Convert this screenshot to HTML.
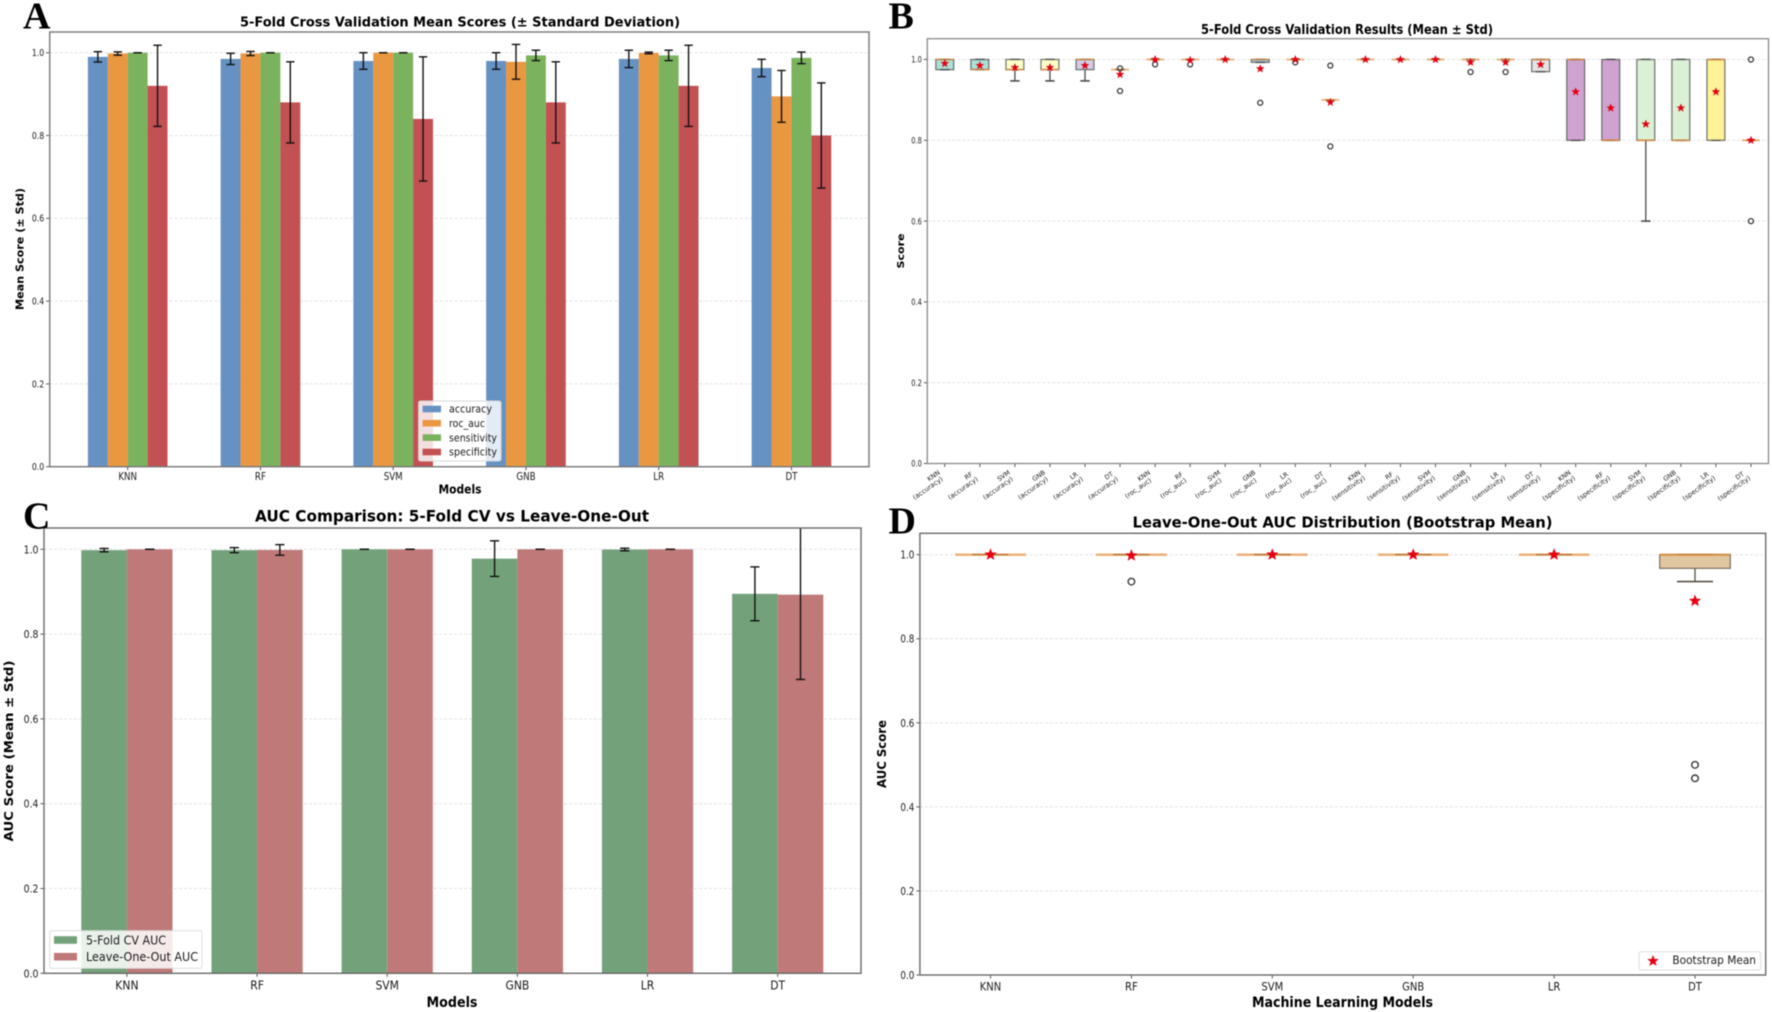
<!DOCTYPE html>
<html lang="en">
<head>
<meta charset="utf-8">
<title>Cross validation results</title>
<style>
html,body{margin:0;padding:0;background:#fff;width:1772px;height:1012px;overflow:hidden}
svg{display:block;filter:blur(0.6px)}
text{font-family:"DejaVu Sans","Liberation Sans",sans-serif;fill:#1a1a1a}
.title,.axis{font-weight:700;fill:#000}
.letter{font-family:"Liberation Serif",serif;font-weight:700;font-size:38px;fill:#000}
</style>
</head>
<body>
<svg id="figure" xmlns="http://www.w3.org/2000/svg" width="1772" height="1012" viewBox="0 0 1772 1012">
  <defs>
    <clipPath id="clip-c"><rect x="44" y="528" width="817" height="446"/></clipPath>
  </defs>
  <rect x="0" y="0" width="1772" height="1012" fill="#fff"/>

  <g id="panel-a"></g>
  <g id="panel-b"></g>
  <g id="panel-c"></g>
  <g id="panel-d"></g>

  <text class="letter" x="23" y="28.5">A</text>
  <text class="letter" x="888.5" y="28.5">B</text>
  <text class="letter" x="23" y="528.5">C</text>
  <text class="letter" x="888.5" y="533.5">D</text>

  <text class="title" x="460" y="26.5" text-anchor="middle" font-size="13.5" textLength="440" lengthAdjust="spacingAndGlyphs">5-Fold Cross Validation Mean Scores (± Standard Deviation)</text>
  <text class="axis" x="460" y="493.5" text-anchor="middle" font-size="12.5" textLength="43" lengthAdjust="spacingAndGlyphs">Models</text>
  <text class="axis" transform="translate(23.5 249) rotate(-90)" text-anchor="middle" font-size="10.5" textLength="122" lengthAdjust="spacingAndGlyphs">Mean Score (± Std)</text>

  <text class="title" x="1347" y="34" text-anchor="middle" font-size="13" textLength="292" lengthAdjust="spacingAndGlyphs">5-Fold Cross Validation Results (Mean ± Std)</text>
  <text class="axis" transform="translate(904 251) rotate(-90)" text-anchor="middle" font-size="9.5" textLength="35" lengthAdjust="spacingAndGlyphs">Score</text>

  <text class="title" x="452" y="521.5" text-anchor="middle" font-size="16" textLength="394" lengthAdjust="spacingAndGlyphs">AUC Comparison: 5-Fold CV vs Leave-One-Out</text>
  <text class="axis" x="452" y="1007" text-anchor="middle" font-size="14" textLength="51" lengthAdjust="spacingAndGlyphs">Models</text>
  <text class="axis" transform="translate(13 751) rotate(-90)" text-anchor="middle" font-size="12.5" textLength="181" lengthAdjust="spacingAndGlyphs">AUC Score (Mean ± Std)</text>

  <text class="title" x="1342.5" y="527.5" text-anchor="middle" font-size="15.5" textLength="420" lengthAdjust="spacingAndGlyphs">Leave-One-Out AUC Distribution (Bootstrap Mean)</text>
  <text class="axis" x="1342.5" y="1007" text-anchor="middle" font-size="14" textLength="181" lengthAdjust="spacingAndGlyphs">Machine Learning Models</text>
  <text class="axis" transform="translate(886 754) rotate(-90)" text-anchor="middle" font-size="12.5" textLength="68" lengthAdjust="spacingAndGlyphs">AUC Score</text>
</svg>

<script>
/* ---------- shared ---------- */
const models = ['KNN', 'RF', 'SVM', 'GNB', 'LR', 'DT'];
const yTicks = [0, 0.2, 0.4, 0.6, 0.8, 1];
const yTickLabels = ['0.0', '0.2', '0.4', '0.6', '0.8', '1.0'];

/* ---------- panel A data ---------- */
const aMetrics = ['accuracy', 'roc_auc', 'sensitivity', 'specificity'];
const aAccuracy = [0.99, 0.985, 0.98, 0.98, 0.985, 0.963];
const aAccuracyStd = [0.0125, 0.0136, 0.02, 0.02, 0.021, 0.021];
const aRocAuc = [0.998, 0.998, 1, 0.978, 0.9995, 0.8945];
const aRocAucStd = [0.004, 0.005, 0, 0.042, 0.002, 0.0625];
const aSensitivity = [1, 1, 1, 0.9935, 0.9935, 0.9875];
const aSensitivityStd = [0, 0, 0, 0.0125, 0.0125, 0.014];
const aSpecificity = [0.92, 0.88, 0.84, 0.88, 0.92, 0.8];
const aSpecificityStd = [0.098, 0.098, 0.15, 0.098, 0.098, 0.127];

/* ---------- panel B data ---------- */
const bModelLabels = ['KNN','RF','SVM','GNB','LR','DT','KNN','RF','SVM','GNB','LR','DT','KNN','RF','SVM','GNB','LR','DT','KNN','RF','SVM','GNB','LR','DT'];
const bMetricLabels = ['accuracy','accuracy','accuracy','accuracy','accuracy','accuracy','roc_auc','roc_auc','roc_auc','roc_auc','roc_auc','roc_auc','sensitivity','sensitivity','sensitivity','sensitivity','sensitivity','sensitivity','specificity','specificity','specificity','specificity','specificity','specificity'];
const bQ1 =      [0.975,0.975,0.975,0.975,0.975,0.975, 1,1,1,0.993,1,0.9, 1,1,1,1,1,0.97, 0.8,0.8,0.8,0.8,0.8,0.8];
const bMedian =  [1,0.975,0.975,0.975,1,0.975, 1,1,1,1,1,0.9, 1,1,1,1,1,1, 1,0.8,0.8,0.8,1,0.8];
const bQ3 =      [1,1,1,1,1,0.975, 1,1,1,1,1,0.9, 1,1,1,1,1,1, 1,1,1,1,1,0.8];
const bWhiskerLow = [0.975,0.975,0.947,0.947,0.947,0.975, 1,1,1,0.993,1,0.9, 1,1,1,1,1,0.97, 0.8,0.8,0.6,0.8,0.8,0.8];
const bWhiskerHigh = [1,1,1,1,1,0.975, 1,1,1,1,1,0.9, 1,1,1,1,1,1, 1,1,1,1,1,0.8];
const bMean =    [0.99,0.985,0.98,0.98,0.985,0.963, 1,0.998,1,0.977,1,0.894, 1,1,1,0.993,0.993,0.9875, 0.92,0.88,0.84,0.88,0.92,0.8];
const bFliers =  [[],[],[],[],[],[0.978,0.922], [0.988],[0.988],[],[0.893],[0.993],[0.985,0.785], [],[],[],[0.969],[0.969],[], [],[],[],[],[],[1,0.6]];
const bPalette = ['#8dd3c7','#8dd3c7','#ffffb3','#ffffb3','#bebada','#bebada','#fb8072','#fb8072','#80b1d3','#80b1d3','#fdb462','#fdb462','#b3de69','#b3de69','#fccde5','#fccde5','#d9d9d9','#d9d9d9','#bc80bd','#bc80bd','#ccebc5','#ccebc5','#ffed6f','#ffed6f'];

/* ---------- panel C data ---------- */
const cSeries = ['5-Fold CV AUC', 'Leave-One-Out AUC'];
const cCv = [0.998, 0.998, 1, 0.978, 0.9995, 0.895];
const cCvStd = [0.004, 0.006, 0, 0.042, 0.003, 0.0635];
const cLoo = [1, 0.9985, 1, 1, 1, 0.893];
const cLooStd = [0, 0.0125, 0, 0, 0, 0.2];

/* ---------- panel D data ---------- */
const dQ1 = [1, 1, 1, 1, 1, 0.9675];
const dMedian = [1, 1, 1, 1, 1, 1];
const dQ3 = [1, 1, 1, 1, 1, 1];
const dWhiskerLow = [1, 1, 1, 1, 1, 0.936];
const dWhiskerHigh = [1, 1, 1, 1, 1, 1];
const dMean = [1, 0.998, 1, 1, 1, 0.89];
const dFliers = [[], [0.936], [], [], [], [0.5, 0.468]];
const dLegendLabel = 'Bootstrap Mean';

/* ---------- axis functions ---------- */
const xA = i => 127.7 + 132.75 * i;
const yA = v => 466.7 - 414 * v;
const xB = i => 944.8 + 35.05 * i;
const yB = v => 463.5 - 404 * v;
const xC = i => 126.9 + 130.16 * i;
const yC = v => 973.3 - 424 * v;
const xD = i => 990.5 + 140.9 * i;
const yD = v => 975 - 420.3 * v;

/* ---------- svg helpers ---------- */
const NS = 'http://www.w3.org/2000/svg';
function make(parent, tag, attrs) {
  const node = document.createElementNS(NS, tag);
  for (const key in attrs) node.setAttribute(key, attrs[key]);
  parent.appendChild(node);
  return node;
}
function rect(parent, x, y, w, h, fill) {
  return make(parent, 'rect', { x: x, y: y, width: w, height: h, fill: fill });
}
function line(parent, x1, y1, x2, y2, stroke, width) {
  return make(parent, 'line', { x1: x1, y1: y1, x2: x2, y2: y2, stroke: stroke, 'stroke-width': width });
}
function label(parent, x, y, str, size, anchor, sx) {
  const node = make(parent, 'text', {
    transform: 'translate(' + x + ' ' + y + ') scale(' + sx + ' 1)',
    'font-size': size,
    'text-anchor': anchor
  });
  node.textContent = str;
  return node;
}
function star(parent, cx, cy, r) {
  const pts = [];
  for (let k = 0; k < 10; k++) {
    const rad = k % 2 === 0 ? r : r * 0.42;
    const ang = -Math.PI / 2 + k * Math.PI / 5;
    pts.push((cx + rad * Math.cos(ang)).toFixed(2) + ',' + (cy + rad * Math.sin(ang)).toFixed(2));
  }
  return make(parent, 'polygon', { points: pts.join(' '), fill: '#e60012', stroke: '#d40010', 'stroke-width': 0.4 });
}
function drawYAxis(parent, prefix, yFn, left, right, size, sx) {
  yTicks.forEach((tick, i) => {
    const gl = line(parent, left, yFn(tick), right, yFn(tick), '#e2e2e2', 1);
    gl.setAttribute('stroke-dasharray', '3 2');
    
    
    const tm = line(parent, left - 3.5, yFn(tick), left, yFn(tick), '#444', 0.9);
    
    
    const tl = label(parent, left - 5.5, yFn(tick) + size * 0.36, yTickLabels[i], size, 'end', sx);
    
    
  });
}
function drawXAxis(parent, prefix, xFn, bottom, yLabel, size, sx) {
  models.forEach((name, i) => {
    const tm = line(parent, xFn(i), bottom, xFn(i), bottom + 3.5, '#444', 0.9);
    
    
    const tl = label(parent, xFn(i), yLabel, name, size, 'middle', sx);
    
    
  });
}
function drawFrame(parent, prefix, left, top, right, bottom, stroke, width) {
  const fr = make(parent, 'rect', { x: left, y: top, width: right - left, height: bottom - top, fill: 'none', stroke: stroke, 'stroke-width': width });
  
  
}
function drawErr(parent, name, x, yFn, value, std, capHalf, width) {
  const g = make(parent, 'g', {});
  
  
  const t = yFn(value + std);
  const b = yFn(value - std);
  line(g, x, t, x, b, '#111', width);
  line(g, x - capHalf, t, x + capHalf, t, '#111', width);
  line(g, x - capHalf, b, x + capHalf, b, '#111', width);
  return g;
}
function drawBox(parent, name, cx, boxW, capW, yFn, q1, med, q3, lo, hi, fill, fillOp, edge, medW, starR, flierR, flierW, mean, fliers) {
  const g = make(parent, 'g', {});
  
  
  line(g, cx, yFn(q1), cx, yFn(lo), edge, 1.3);
  line(g, cx, yFn(q3), cx, yFn(hi), edge, 1.3);
  line(g, cx - capW / 2, yFn(lo), cx + capW / 2, yFn(lo), edge, 1.6);
  line(g, cx - capW / 2, yFn(hi), cx + capW / 2, yFn(hi), edge, 1.6);
  const box = rect(g, cx - boxW / 2, yFn(q3), boxW, yFn(q1) - yFn(q3), fill);
  box.setAttribute('fill-opacity', fillOp);
  box.setAttribute('stroke', edge);
  box.setAttribute('stroke-width', q1 === q3 ? 0 : 1.3);
  box.setAttribute('stroke-opacity', 0.72);
  const m = line(g, cx - boxW / 2, yFn(med), cx + boxW / 2, yFn(med), '#e8923f', medW);
  m.setAttribute('stroke-opacity', 0.72);
  fliers.forEach(f => {
    const c = make(g, 'circle', { cx: cx, cy: yFn(f), r: flierR, fill: 'none', stroke: '#3a3a3a', 'stroke-width': flierW });
    
    
  });
  const s = star(g, cx, yFn(mean), starR);
  
  
}

/* ---------- panel A ---------- */
(function () {
  const p = document.getElementById('panel-a');
  const seriesVals = [aAccuracy, aRocAuc, aSensitivity, aSpecificity];
  const seriesStd = [aAccuracyStd, aRocAucStd, aSensitivityStd, aSpecificityStd];
  const colors = ['#6591c3', '#ea9742', '#7bb25d', '#c35053'];
  const barW = 19.9;
  drawYAxis(p, 'chart-a', yA, 49.7, 869, 9.5, 0.82);
  seriesVals.forEach((vals, s) => {
    vals.forEach((v, i) => {
      const x = xA(i) + (s - 2) * barW;
      const bar = rect(p, x, yA(v), barW, yA(0) - yA(v), colors[s]);
      
      
    });
  });
  seriesVals.forEach((vals, s) => {
    vals.forEach((v, i) => {
      const x = xA(i) + (s - 1.5) * barW;
      drawErr(p, 'error-bar-' + aMetrics[s] + '-' + models[i], x, yA, v, seriesStd[s][i], 4.2, 1.4);
    });
  });
  drawXAxis(p, 'chart-a', xA, 466.7, 480, 10.5, 0.83);
  drawFrame(p, 'chart-a', 49.7, 32, 869, 466.7, '#777', 1.4);

  const lg = make(p, 'g', {});
  
  
  const bg = rect(lg, 418.6, 401, 82.4, 60, 'rgba(255,255,255,0.82)');
  bg.setAttribute('stroke', '#d8d8d8');
  bg.setAttribute('rx', 2);
  const rowY = [409, 423.2, 437.6, 452];
  const rowW = [43, 36, 48, 48];
  aMetrics.forEach((name, i) => {
    const sw = rect(lg, 422.6, rowY[i] - 3.3, 18.4, 6.6, colors[i]);
    
    
    const t = make(lg, 'text', { x: 449, y: rowY[i] + 3.7, 'font-size': 11, textLength: rowW[i], lengthAdjust: 'spacingAndGlyphs' });
    t.textContent = name;
    
    
  });
})();

/* ---------- panel B ---------- */
(function () {
  const p = document.getElementById('panel-b');
  drawYAxis(p, 'chart-b', yB, 927.3, 1768.5, 9, 0.74);
  bQ1.forEach((q1, i) => {
    drawBox(p, 'box-' + bModelLabels[i] + '-' + bMetricLabels[i], xB(i), 17.9, 9.4, yB,
      q1, bMedian[i], bQ3[i], bWhiskerLow[i], bWhiskerHigh[i],
      bPalette[i], 0.72, '#4a4a4a', 1.8, 4.1, 2.5, 1.3, bMean[i], bFliers[i]);
    const tm = line(p, xB(i), 463.5, xB(i), 467, '#444', 0.9);
    
    
    const a = make(p, 'text', { transform: 'translate(' + (xB(i) - 10) + ' 477.5) rotate(-35)', 'font-size': 6.4, 'text-anchor': 'middle' });
    a.textContent = bModelLabels[i];
    
    
    const b = make(p, 'text', { transform: 'translate(' + (xB(i) - 15.7) + ' 490) rotate(-35)', 'font-size': 6.6, 'text-anchor': 'middle' });
    b.textContent = '(' + bMetricLabels[i] + ')';
    
    
  });
  drawFrame(p, 'chart-b', 927.3, 38.7, 1768.5, 463.5, '#8a8a8a', 1.3);
})();

/* ---------- panel C ---------- */
(function () {
  const p = document.getElementById('panel-c');
  const barW = 45.6;
  const green = '#73a27a';
  const red = '#bf7978';
  drawYAxis(p, 'chart-c', yC, 44, 861, 11, 0.85);
  models.forEach((name, i) => {
    const a = rect(p, xC(i) - barW, yC(cCv[i]), barW, yC(0) - yC(cCv[i]), green);
    
    
    const b = rect(p, xC(i), yC(cLoo[i]), barW, yC(0) - yC(cLoo[i]), red);
    
    
  });
  models.forEach((name, i) => {
    const a = drawErr(p, 'error-bar-cv-' + name, xC(i) - barW / 2, yC, cCv[i], cCvStd[i], 4.6, 1.4);
    a.setAttribute('clip-path', 'url(#clip-c)');
    const b = drawErr(p, 'error-bar-loo-' + name, xC(i) + barW / 2, yC, cLoo[i], cLooStd[i], 4.6, 1.4);
    b.setAttribute('clip-path', 'url(#clip-c)');
  });
  drawXAxis(p, 'chart-c', xC, 973.3, 989.3, 12, 0.9);
  drawFrame(p, 'chart-c', 44, 528, 861, 973.3, '#6a6a6a', 1.4);

  const lg = make(p, 'g', {});
  
  
  const bg = rect(lg, 49.7, 930.7, 152.3, 37.6, 'rgba(255,255,255,0.85)');
  bg.setAttribute('stroke', '#dcdcdc');
  bg.setAttribute('rx', 2);
  const rowY = [940, 956.7];
  const rowW = [80, 112];
  const rowC = [green, red];
  cSeries.forEach((name, i) => {
    const sw = rect(lg, 54, rowY[i] - 3.8, 23, 7.6, rowC[i]);
    
    
    const t = make(lg, 'text', { x: 86, y: rowY[i] + 4.4, 'font-size': 12, textLength: rowW[i], lengthAdjust: 'spacingAndGlyphs' });
    t.textContent = name;
    
    
  });
})();

/* ---------- panel D ---------- */
(function () {
  const p = document.getElementById('panel-d');
  drawYAxis(p, 'chart-d', yD, 919.9, 1765.7, 11, 0.8);
  models.forEach((name, i) => {
    drawBox(p, 'box-' + name, xD(i), 70.6, 36, yD,
      dQ1[i], dMedian[i], dQ3[i], dWhiskerLow[i], dWhiskerHigh[i],
      '#d8b988', 0.8, '#5a5040', 2.3, 6, 3.3, 1.4, dMean[i], dFliers[i]);
  });
  drawXAxis(p, 'chart-d', xD, 975, 990.5, 11.5, 0.87);
  drawFrame(p, 'chart-d', 919.9, 533.3, 1765.7, 975, '#6a6a6a', 1.4);

  const lg = make(p, 'g', {});
  
  
  const bg = rect(lg, 1639, 951.7, 121.6, 18.3, 'rgba(255,255,255,0.85)');
  bg.setAttribute('stroke', '#dcdcdc');
  bg.setAttribute('rx', 2);
  const s = star(lg, 1653, 961, 5.6);
  
  
  const t = make(lg, 'text', { x: 1672.4, y: 964.2, 'font-size': 11.5, textLength: 83.6, lengthAdjust: 'spacingAndGlyphs' });
  t.textContent = dLegendLabel;
  
  
})();
</script>
</body>
</html>
